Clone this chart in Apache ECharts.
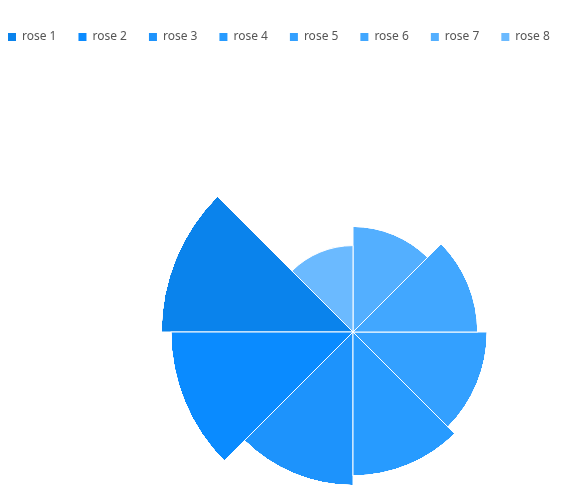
<!DOCTYPE html>
<html>
<head>
<meta charset="utf-8">
<style>
html,body{margin:0;padding:0;background:#fff;}
#main{width:564px;height:496px;}
</style>
<script src="https://cdn.jsdelivr.net/npm/echarts@6/dist/echarts.min.js"></script>
</head>
<body>
<div id="main"></div>
<script>
const names = ['rose 1','rose 2','rose 3','rose 4','rose 5','rose 6','rose 7','rose 8'];
const values = [40, 38, 32, 30, 28, 26, 22, 18];
const colors = ['#0a83ec','#0a8bff','#1d93fc','#279bff','#33a0ff','#41a7ff','#53afff','#6bbaff'];

const chart = echarts.init(document.getElementById('main'));
chart.setOption({
  animation: false,
  color: colors,
  legend: {
    left: 1,
    top: 26,
    itemWidth: 10,
    itemHeight: 10,
    itemGap: 20,
    icon: 'rect',
    textStyle: { color: '#555', fontSize: 12, fontFamily: 'Noto Sans' },
    data: names
  },
  polar: { center: [353, 332], radius: 192 },
  angleAxis: {
    type: 'category',
    data: names,
    startAngle: 135,
    clockwise: false,
    boundaryGap: true,
    show: false
  },
  radiusAxis: { type: 'value', min: 0, max: 40, show: false },
  series: names.map((n, i) => ({
    type: 'bar',
    name: n,
    coordinateSystem: 'polar',
    stack: 'rose',
    barCategoryGap: '0%',
    itemStyle: { borderColor: '#fff', borderWidth: 1 },
    data: values.map((v, j) => (j === i ? v : 0))
  }))
});
</script>
</body>
</html>
